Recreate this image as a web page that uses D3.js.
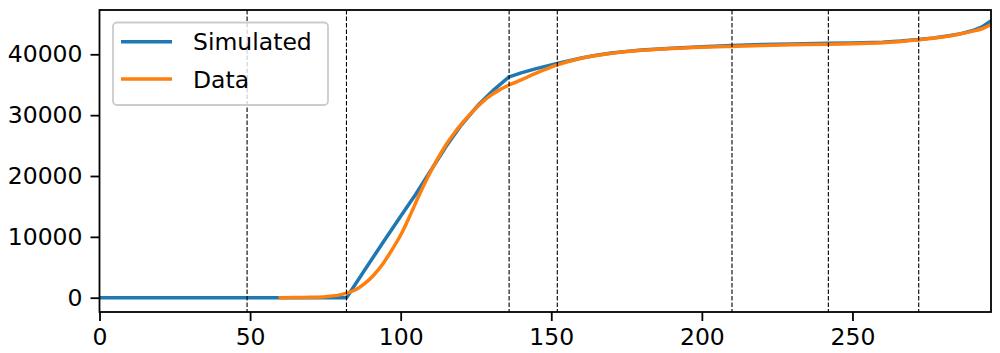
<!DOCTYPE html>
<html><head><meta charset="utf-8">
<script src="https://cdn.jsdelivr.net/npm/d3@7"></script>
<style>
html,body{margin:0;padding:0;background:#fff;}
svg{display:block;font-family:"DejaVu Sans",sans-serif;}
</style></head>
<body>
<svg id="chart" width="1000" height="353"></svg>
<script>
// ---- data ----
const simDays   = [0, 82, 88, 94, 100, 105, 110, 115, 120, 126, 131, 136, 140, 145, 152, 156, 160, 165, 170, 175, 180, 190, 200, 210, 220, 230, 242, 250, 260, 266, 272, 277, 282, 286, 290, 293, 296];
const simValues = [0, 0, 4500, 9000, 13400, 17000, 20900, 24800, 28300, 31800, 34200, 36300, 36950, 37650, 38500, 38950, 39400, 39850, 40200, 40480, 40700, 41000, 41250, 41450, 41600, 41700, 41800, 41850, 42000, 42180, 42450, 42700, 43050, 43400, 43900, 44500, 45500];
const dataDays   = [60, 65, 70, 75, 79, 82, 85, 88, 91, 94, 97, 100, 103, 106, 109, 112, 115, 118, 121, 124, 127, 130, 133, 136, 140, 145, 152, 160, 170, 180, 190, 200, 210, 220, 230, 242, 250, 260, 272, 280, 285, 290, 293, 296];
const dataValues = [0, 20, 70, 170, 380, 750, 1300, 2300, 3700, 5500, 7800, 10300, 13400, 16700, 19800, 22600, 25100, 27200, 29000, 30650, 32100, 33300, 34200, 34950, 35800, 36900, 38250, 39350, 40150, 40650, 40950, 41150, 41300, 41450, 41550, 41650, 41750, 41900, 42400, 42850, 43250, 43800, 44200, 44900];
const breakDays = [49, 82, 136, 152, 210, 242, 272];
const xTicks = [0, 50, 100, 150, 200, 250];
const yTicks = [0, 10000, 20000, 30000, 40000];
const seriesNames = ["Simulated", "Data"];
const seriesColors = ["#1f77b4", "#ff7f0e"];

// ---- layout ----
const L = 99.5, R = 991, T = 10, B = 312;
const svg = d3.select("#chart");
const x = d3.scaleLinear().domain([0, 296]).range([L, R]);
const y = d3.scaleLinear().domain([-2350, 47280]).range([B, T]);

const fs = 23.5;
const sim = simDays.map((d, i) => [d, simValues[i]]);
const dat = dataDays.map((d, i) => [d, dataValues[i]]);

svg.append("clipPath").attr("id", "clip").append("rect")
  .attr("x", L).attr("y", T).attr("width", R - L).attr("height", B - T);

const gPlot = svg.append("g").attr("clip-path", "url(#clip)");
const lineLin = d3.line().x(d => x(d[0])).y(d => y(d[1]));
const lineSmooth = d3.line().x(d => x(d[0])).y(d => y(d[1])).curve(d3.curveMonotoneX);

gPlot.append("path").datum(sim).attr("d", lineLin)
  .attr("fill", "none").attr("stroke", seriesColors[0]).attr("stroke-width", 3.5)
  .attr("stroke-linejoin", "round").attr("stroke-linecap", "square");
gPlot.append("path").datum(dat).attr("d", lineSmooth)
  .attr("fill", "none").attr("stroke", seriesColors[1]).attr("stroke-width", 3.5)
  .attr("stroke-linejoin", "round").attr("stroke-linecap", "square");

// vertical dashed lines
gPlot.selectAll("line.vb").data(breakDays).enter().append("line")
  .attr("class", "vb")
  .attr("x1", d => x(d)).attr("x2", d => x(d))
  .attr("y1", T).attr("y2", B)
  .attr("stroke", "#000").attr("stroke-width", 1.1)
  .attr("stroke-dasharray", "4.5,2");

// axes
const xAxis = d3.axisBottom(x).tickValues(xTicks).tickSize(9).tickPadding(7).tickFormat(d3.format("d"));
const yAxis = d3.axisLeft(y).tickValues(yTicks).tickSize(9).tickPadding(8).tickFormat(d3.format("d"));
const gx = svg.append("g").attr("transform", `translate(0,${B})`).call(xAxis);
const gy = svg.append("g").attr("transform", `translate(${L},0)`).call(yAxis);
[gx, gy].forEach(g => {
  g.select(".domain").remove();
  g.selectAll(".tick line").attr("stroke", "#000").attr("stroke-width", 1.8);
  g.selectAll(".tick text").attr("fill", "#000").style("font-size", fs + "px")
    .style("font-family", '"DejaVu Sans", sans-serif');
});

// frame
svg.append("rect").attr("x", L).attr("y", T).attr("width", R - L).attr("height", B - T)
  .attr("fill", "none").attr("stroke", "#000").attr("stroke-width", 1.8);

// legend
const lg = svg.append("g");
lg.append("rect").attr("x", 113).attr("y", 22.5).attr("width", 215).attr("height", 82.5)
  .attr("rx", 4).attr("ry", 4)
  .attr("fill", "#fff").attr("fill-opacity", 0.8)
  .attr("stroke", "#cccccc").attr("stroke-width", 1.8);
seriesNames.forEach((name, i) => {
  const yy = 41.7 + i * 37.3;
  lg.append("line").attr("x1", 121).attr("x2", 172).attr("y1", yy).attr("y2", yy)
    .attr("stroke", seriesColors[i]).attr("stroke-width", 3.5);
  lg.append("text").attr("x", 193).attr("y", yy + 8.5).text(name)
    .attr("fill", "#000").style("font-size", fs + "px");
});
</script>
</body></html>
